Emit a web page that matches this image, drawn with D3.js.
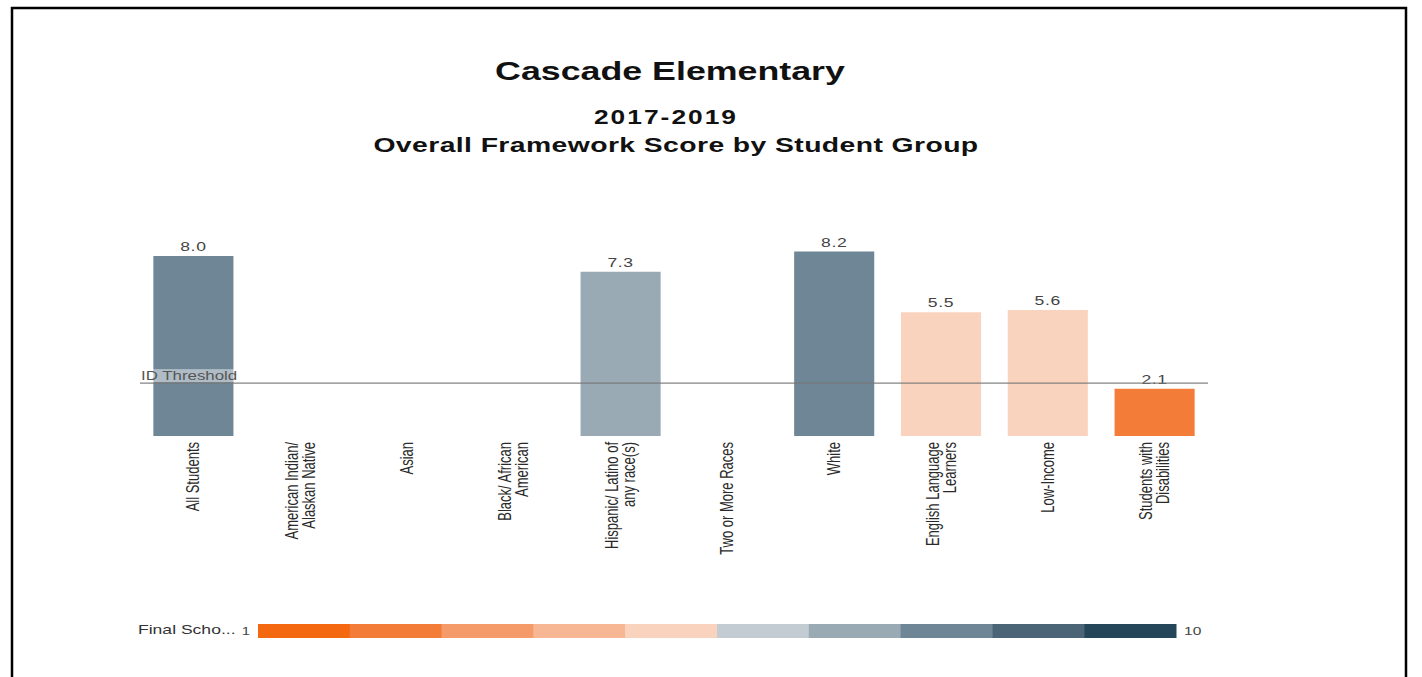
<!DOCTYPE html>
<html>
<head>
<meta charset="utf-8">
<script src="https://cdn.jsdelivr.net/npm/d3@7"></script>
<style>
  body { margin: 0; background: #fff; }
  svg { display: block; }
</style>
</head>
<body>
<div class="chart-container"></div>
<script>
// Student groups & their scores (null = no bar)
const groups = [
    ["All Students"],
    ["American Indian/", "Alaskan Native"],
    ["Asian"],
    ["Black/ African", "American"],
    ["Hispanic/ Latino of", "any race(s)"],
    ["Two or More Races"],
    ["White"],
    ["English Language", "Learners"],
    ["Low-Income"],
    ["Students with", "Disabilities"]
];
const scores = [8.0, null, null, null, 7.3, null, 8.2, 5.5, 5.6, 2.1];
const idThreshold = 2.35;

// Legend bins 1..10
const legendColors = ["#f4680f", "#f37d38", "#f59b69", "#f7b795", "#f9d3be",
                      "#c3ccd3", "#9aaab5", "#6f8696", "#4b6577", "#254659"];
const legendLabels = ["1", "10"];

const W = 1422, H = 677;
// the source screenshot is stretched sideways, so text is too
const SX = 1.35;
const FONT = "Liberation Sans, Arial, sans-serif";

const svg = d3.select(".chart-container")
    .append("svg")
        .attr("width", W)
        .attr("height", H);

// black frame (bottom edge is cut off in the screenshot)
svg.append("path")
    .attr("d", `M12,${H} L12,8 L1406,8 L1406,${H}`)
    .attr("fill", "none")
    .attr("stroke", "#000")
    .attr("stroke-width", 2.5);

// horizontal text, stretched by SX
function addText(parent, x, y, txt, size, opts = {}) {
    return parent.append("text")
        .attr("transform", `translate(${x},${y}) scale(${SX},1)`)
        .attr("text-anchor", opts.anchor || "start")
        .attr("font-family", FONT)
        .attr("font-weight", opts.bold ? "bold" : null)
        .attr("font-size", size)
        .attr("letter-spacing", opts.ls || null)
        .attr("fill", opts.fill || "#333")
        .text(txt);
}

// Titles
addText(svg, 670, 80, "Cascade Elementary", 26.5, { anchor: "middle", bold: true, fill: "#111" });
addText(svg, 666, 124, "2017-2019", 19.5, { anchor: "middle", bold: true, fill: "#111", ls: "1.5px" });
addText(svg, 676, 152, "Overall Framework Score by Student Group", 21, { anchor: "middle", bold: true, fill: "#111", ls: "0.3px" });

// Scales
const data = groups.map((g, i) => ({ key: g.join(" "), lines: g, value: scores[i] }));

const xScale = d3.scaleBand()
    .domain(data.map(d => d.key))
    .range([140, 1208])
    .paddingInner(0.25)
    .paddingOuter(0.125);

const yScale = d3.scaleLinear().domain([0, 10]).range([436, 211]);

const color = d3.scaleThreshold()
    .domain(d3.range(2, 11))
    .range(legendColors);

const plot = svg.append("g");

const withVal = data.filter(d => d.value != null);

plot.selectAll("rect.bar")
    .data(withVal)
    .join("rect")
        .attr("class", "bar")
        .attr("x", d => xScale(d.key))
        .attr("y", d => yScale(d.value))
        .attr("width", xScale.bandwidth())
        .attr("height", d => yScale(0) - yScale(d.value))
        .attr("fill", d => color(d.value));

withVal.forEach(d => {
    addText(plot, xScale(d.key) + xScale.bandwidth() / 2, yScale(d.value) - 5,
        d.value.toFixed(1), 13, { anchor: "middle", fill: "#444", ls: "0.5px" });
});

// ID threshold line + label
const ty = yScale(idThreshold);
plot.append("rect")
    .attr("x", 140).attr("y", ty - 14)
    .attr("width", 97).attr("height", 13)
    .attr("fill", "#fff").attr("opacity", 0.45);
addText(plot, 141, ty - 3, "ID Threshold", 12.5, { fill: "#555" });
plot.append("line")
    .attr("x1", xScale.range()[0]).attr("x2", xScale.range()[1])
    .attr("y1", ty).attr("y2", ty)
    .attr("stroke", "#777")
    .attr("stroke-opacity", 0.9)
    .attr("stroke-width", 1.2);

// Category labels, rotated (glyphs get the sideways stretch too)
const lab = plot.selectAll("g.lab")
    .data(data)
    .join("g")
        .attr("class", "lab")
        .attr("transform", d => `translate(${xScale(d.key) + xScale.bandwidth() / 2}, 442) scale(${SX},1) rotate(-90)`);

lab.selectAll("text")
    .data(d => d.lines.map((t, i) => ({ t, i, n: d.lines.length })))
    .join("text")
        .attr("x", 0)
        .attr("y", d => (d.i - (d.n - 1) / 2) * 12.6 + 4.5)
        .attr("text-anchor", "end")
        .attr("font-family", FONT)
        .attr("font-size", 13)
        .attr("fill", "#2a2a2a")
        .text(d => d.t);

// Legend
const legX = d3.scaleBand().domain(d3.range(1, 11)).range([258, 1176]);
const leg = svg.append("g");
leg.selectAll("rect")
    .data(d3.range(1, 11))
    .join("rect")
        .attr("x", d => legX(d))
        .attr("y", 624)
        .attr("width", legX.bandwidth() + 0.5)
        .attr("height", 14)
        .attr("fill", d => legendColors[d - 1]);
addText(leg, 138, 634, "Final Scho...", 13, { fill: "#333" });
addText(leg, 250, 635, legendLabels[0], 11, { anchor: "end", fill: "#444" });
addText(leg, 1184, 635, legendLabels[1], 11.5, { fill: "#444" });
</script>
</body>
</html>
